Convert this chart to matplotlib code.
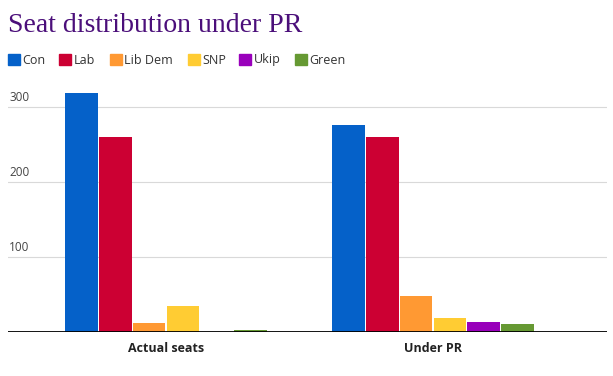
import numpy as np
import matplotlib
matplotlib.use('agg')
import matplotlib.pyplot as plt
from matplotlib.patches import Rectangle

categories = ['Actual seats', 'Under PR']
parties = ['Con', 'Lab', 'Lib Dem', 'SNP', 'Ukip', 'Green']
colors = ['#0561c9', '#cc0033', '#ff9933', '#ffcc33', '#9900bb', '#669933']
seats = {
    'Con': [319, 277],
    'Lab': [261, 261],
    'Lib Dem': [12, 48],
    'SNP': [35, 19],
    'Ukip': [0, 13],
    'Green': [3, 11],
}
yticks = [100, 200, 300]

fig = plt.figure(figsize=(6.13, 3.76), dpi=100)
ax = fig.add_axes([8 / 613, 44 / 376, 599 / 613, 247 / 376])

x = np.arange(len(categories))
pitch = 0.1266
width = 0.122
for i, p in enumerate(parties):
    ax.bar(x + (i - 2.5) * pitch, seats[p], width=width, color=colors[i], zorder=3)

ax.set_xlim(-0.592, 1.652)
ax.set_ylim(0, 330)
for s in ['top', 'right', 'left', 'bottom']:
    ax.spines[s].set_visible(False)
ax.axhline(0, color='black', lw=1.3, zorder=4)
for t in yticks:
    ax.axhline(t, color='#d9d9d9', lw=0.8, zorder=1)
    ax.annotate(str(t), xy=(0, t), xycoords=('axes fraction', 'data'),
                xytext=(1, 2.5), textcoords='offset points', ha='left', va='bottom',
                fontsize=8.5, color='#444444', family='Open Sans')
ax.set_yticks([])
ax.set_xticks(x)
ax.set_xticklabels(categories, fontsize=9, fontweight='bold', color='#222222', family='Open Sans')
ax.tick_params(axis='x', length=0, pad=7.5)

fig.text(8 / 613, 1 - 32 / 376, 'Seat distribution under PR', fontsize=20,
         family='Liberation Serif', color='#4b0f7a', ha='left', va='baseline')

# legend
leg_x = [8, 59, 110, 188, 239, 295]
for lx, p, c in zip(leg_x, parties, colors):
    fig.patches.append(Rectangle((lx / 613, 1 - 65 / 376), 11.5 / 613, 11.5 / 376,
                                 transform=fig.transFigure, color=c, figure=fig))
    fig.text((lx + 14.5) / 613, 1 - 60 / 376, p, fontsize=9, color='#333333',
             family='Open Sans', ha='left', va='center')

plt.savefig('out.png')
